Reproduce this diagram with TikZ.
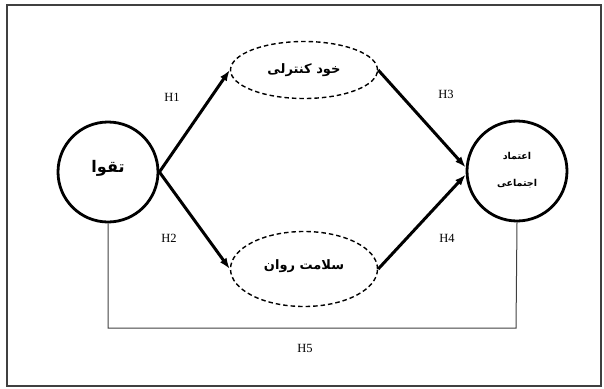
\documentclass[tikz,border=0pt]{standalone}
\usepackage{fontspec}
\setmainfont{Liberation Serif}
\newfontfamily\arabicfont[Script=Arabic]{DejaVu Sans}
\TeXXeTstate=1
\usetikzlibrary{arrows.meta,shapes.geometric}
\begin{document}
\begin{tikzpicture}[x=1pt,y=-1pt,
  bigcirc/.style={draw,line width=2.8pt,ellipse,minimum width=100pt,minimum height=100pt,inner sep=0pt},
  medbox/.style={draw,line width=1.4pt,dash pattern=on 4.5pt off 3pt,ellipse,minimum width=147pt,inner sep=0pt},
  arr/.style={line width=3pt,-{Latex[length=11pt,width=8pt]}},
  hlab/.style={font=\fontsize{12.5}{14}\selectfont},
  fa/.style={font=\arabicfont\bfseries}]
\useasboundingbox (0,0) rectangle (604,388);
\draw[line width=2.5pt,gray!50!black] (7,5) rectangle (601,386);
\node[bigcirc] (L) at (108,172) {};
\node[fa,font=\arabicfont\bfseries\fontsize{16}{18}\selectfont] (Lt) at (108,168) {\beginR تقوا\endR};
\node[bigcirc] (R) at (517,171) {};
\node[fa,font=\arabicfont\bfseries\fontsize{9.5}{11}\selectfont] (Rt1) at (517,156) {\beginR اعتماد\endR};
\node[fa,font=\arabicfont\bfseries\fontsize{9.5}{11}\selectfont] (Rt2) at (517,184) {\beginR اجتماعی\endR};
\node[medbox,minimum height=57pt] (T) at (304,70) {};
\node[fa,font=\arabicfont\bfseries\fontsize{13}{15}\selectfont] (Tt) at (304,70) {\beginR خود کنترلی\endR};
\node[medbox,minimum height=75pt] (B) at (304,269) {};
\node[fa,font=\arabicfont\bfseries\fontsize{13}{15}\selectfont] (Bt) at (304,266) {\beginR سلامت روان\endR};
\draw[arr] (L.east) -- (T.west);
\draw[arr] (L.east) -- (B.west);
\draw[arr] (T.east) -- (R.176);
\draw[arr] (B.east) -- (R.184);
\coordinate (c1) at (108,328);
\coordinate (c2) at (516,328);
\draw[line width=1pt,gray!50!black] (L.south) -- (c1) -- (c2) -- (R.south);
\node[hlab] (h1) at (172,97) {H1};
\node[hlab] (h2) at (169,238) {H2};
\node[hlab] (h3) at (446,94) {H3};
\node[hlab] (h4) at (447,238) {H4};
\node[hlab] (h5) at (305,348) {H5};
\end{tikzpicture}
\end{document}
